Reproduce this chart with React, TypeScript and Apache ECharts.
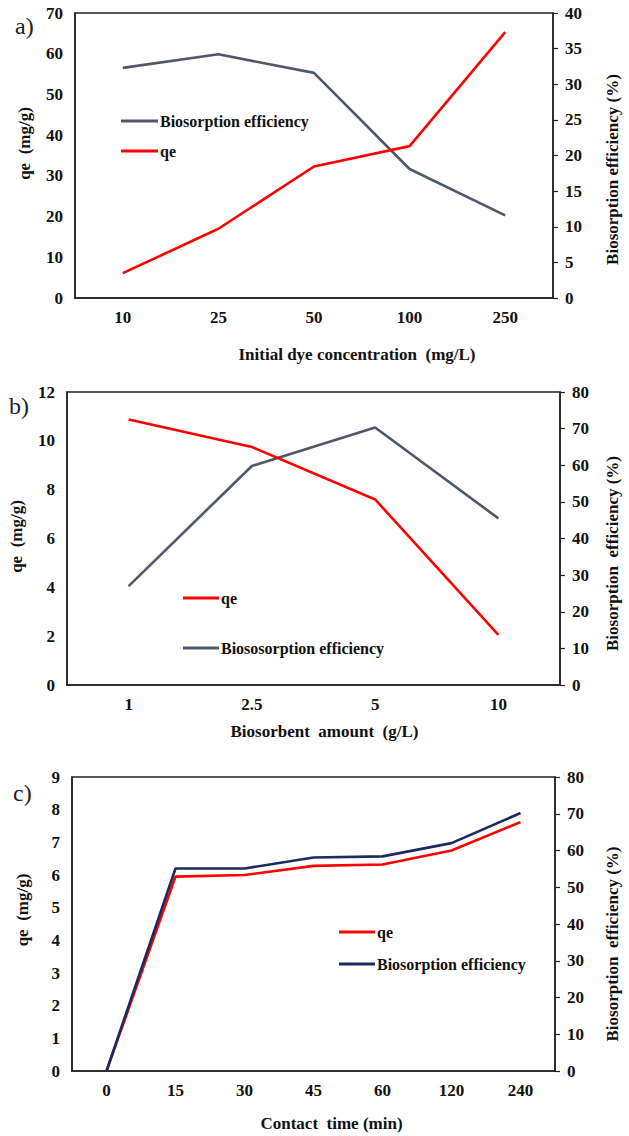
import React, { useEffect, useRef } from "react";
import * as echarts from "echarts";

// Panel a
const catsA = ["10", "25", "50", "100", "250"];
const qeA = [6.1, 17.0, 32.3, 37.3, 65.3];
const effA = [32.3, 34.2, 31.6, 18.1, 11.6];
// Panel b
const catsB = ["1", "2.5", "5", "10"];
const qeB = [10.87, 9.75, 7.6, 2.05];
const effB = [27.0, 59.8, 70.3, 45.5];
// Panel c
const catsC = ["0", "15", "30", "45", "60", "120", "240"];
const qeC = [0, 5.95, 6.0, 6.28, 6.32, 6.75, 7.62];
const effC = [0, 55.1, 55.1, 58.1, 58.4, 62.0, 70.2];

const FONT = "'Liberation Serif', 'Times New Roman', serif";
const RED = "#ff0000";
const GRAY = "#4f5868";
const NAVY = "#1c2b5f";
const TXT = "#111";

const labelStyle = { fontFamily: FONT, fontWeight: "bold" as const, fontSize: 17, color: TXT };

function xAx(grid: number, data: string[], name: string, gap: number, shift: number) {
  return {
    type: "category",
    gridIndex: grid,
    data,
    boundaryGap: true,
    axisLine: { show: true, lineStyle: { color: "#222", width: 1.5 } },
    axisTick: { show: false },
    axisLabel: { ...labelStyle, margin: 11 },
    name,
    nameLocation: "middle",
    nameGap: gap,
    nameTextStyle: { ...labelStyle, padding: [0, shift < 0 ? -2 * shift : 0, 0, shift > 0 ? 2 * shift : 0] },
    splitLine: { show: false },
  };
}

function yAx(
  grid: number,
  pos: "left" | "right",
  max: number,
  interval: number,
  name: string,
  gap: number,
  up: number
) {
  return {
    type: "value",
    gridIndex: grid,
    position: pos,
    min: 0,
    max,
    interval,
    axisLine: { show: true, lineStyle: { color: "#222", width: 1.5 } },
    axisTick: pos === "right" ? { show: true, inside: false, length: 5, lineStyle: { color: "#222", width: 1.2 } } : { show: false },
    axisLabel: { ...labelStyle, margin: 12 },
    splitLine: { show: false },
    name,
    nameLocation: "middle",
    nameRotate: 90,
    nameGap: gap,
    nameTextStyle: { ...labelStyle, padding: [0, up < 0 ? -2 * up : 0, 0, up > 0 ? 2 * up : 0] },
  };
}

function line(name: string, x: number, y: number, data: number[], color: string, z = 2) {
  return {
    type: "line",
    name,
    xAxisIndex: x,
    yAxisIndex: y,
    data,
    symbol: "none",
    lineStyle: { color, width: 2.6 },
    itemStyle: { color },
    z,
  };
}

function legend(left: number, top: number, gap: number, width: number, items: { name: string; color: string }[]) {
  return {
    orient: "vertical",
    left,
    top,
    itemGap: gap,
    itemWidth: width,
    itemHeight: 3,
    icon: "rect",
    selectedMode: false,
    textStyle: { ...labelStyle, fontSize: 16, padding: [0, 0, 0, -3] },
    data: items.map((it) => ({ name: it.name, icon: "rect", itemStyle: { color: it.color } })),
  };
}

export default function App() {
  const ref = useRef<HTMLDivElement>(null);
  useEffect(() => {
    document.body.style.margin = "0";
    const chart = echarts.init(ref.current!, null, { renderer: "svg" });
    const gridStyle = { show: true, borderColor: "#222", borderWidth: 1.5, backgroundColor: "transparent" };
    chart.setOption({
      animation: false,
      backgroundColor: "#fff",
      grid: [
        { ...gridStyle, left: 75, top: 13, width: 491, height: 285 },
        { ...gridStyle, left: 64, top: 392, width: 496, height: 293 },
        { ...gridStyle, left: 72, top: 777, width: 506, height: 294 },
      ],
      xAxis: [
        xAx(0, catsA, "Initial dye concentration  (mg/L)", 48, 43),
        xAx(1, catsB, "Biosorbent  amount  (g/L)", 38, 11),
        xAx(2, catsC, "Contact  time (min)", 44, 18),
      ],
      yAxis: [
        yAx(0, "left", 70, 10, "qe  (mg/g)", 42, 12),
        yAx(0, "right", 40, 5, "Biosorption efficiency (%)", 51, -14),
        yAx(1, "left", 12, 2, "qe  (mg/g)", 42, 2),
        yAx(1, "right", 80, 10, "Biosorption  efficiency (%)", 44, -15),
        yAx(2, "left", 9, 1, "qe  (mg/g)", 41, 14),
        yAx(2, "right", 80, 10, "Biosorption  efficiency (%)", 49, -20),
      ],
      legend: [
        legend(116, 108, 14, 37, [
          { name: "Biosorption efficiency", color: GRAY },
          { name: "qe", color: RED },
        ]),
        legend(178, 585, 34, 36, [
          { name: "qe", color: RED },
          { name: "Biososorption efficiency", color: GRAY },
        ]),
        legend(334, 919, 16, 36, [
          { name: "qe", color: RED },
          { name: "Biosorption efficiency", color: NAVY },
        ]),
      ],
      series: [
        line("Biosorption efficiency", 0, 1, effA, GRAY, 2),
        line("qe", 0, 0, qeA, RED, 3),
        line("Biososorption efficiency", 1, 3, effB, GRAY, 2),
        line("qe", 1, 2, qeB, RED, 3),
        line("qe", 2, 4, qeC, RED, 2),
        line("Biosorption efficiency", 2, 5, effC, NAVY, 3),
      ],
      graphic: [
        { type: "text", left: 15, top: 14, style: { text: "a)", font: `24px ${FONT}`, fill: "#222" } },
        { type: "text", left: 9, top: 394, style: { text: "b)", font: `24px ${FONT}`, fill: "#222" } },
        { type: "text", left: 13, top: 781, style: { text: "c)", font: `24px ${FONT}`, fill: "#222" } },
      ],
    });
    return () => chart.dispose();
  }, []);
  return <div ref={ref} style={{ width: 629, height: 1136 }} />;
}
